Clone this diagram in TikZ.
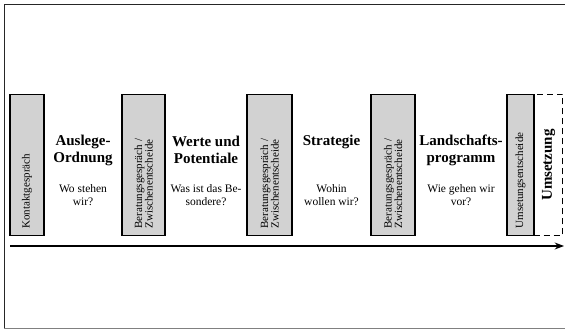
\documentclass[tikz,border=0pt]{standalone}
\usepackage{fontspec}
\setmainfont{Liberation Serif}
\usetikzlibrary{arrows.meta,positioning}

\tikzset{
  gate/.style={draw,line width=1.2pt,fill=gray!35,rotate=90,minimum width=141pt,
    inner xsep=7pt,inner ysep=0pt,text width=127pt,align=left,
    font=\fontsize{11}{10.5}\selectfont},
  phase/.style={align=center,font=\fontsize{15}{17}\selectfont\bfseries},
  question/.style={align=center,font=\fontsize{11.5}{12.5}\selectfont}
}

\begin{document}
\begin{tikzpicture}[x=1pt,y=-1pt,>=Stealth]
\useasboundingbox (0,0) rectangle (565,331);
% frame
\draw[black!85,line width=0.8pt] (565,4) -- (4,4) -- (4,329);
\draw[gray,line width=0.8pt] (4,328.5) -- (565,328.5);
% decision boxes
\foreach \n/\x/\w/\t in {g1/27/34/{Kontaktgespräch},
  g2/143.5/43/{Beratungsgespräch /\\Zwischenentscheide},
  g3/269.5/45/{Beratungsgespräch /\\Zwischenentscheide},
  g4/393/44/{Beratungsgespräch /\\Zwischenentscheide},
  g5/520.5/27/{Umsetungsentscheide}}
 { \node[gate,minimum height=\w pt] (\n) at (\x,165) {\t}; }
\node[draw,dashed,dash pattern=on 6pt off 4pt,line width=1.2pt,rotate=90,minimum width=141pt,
  minimum height=28pt,inner sep=0pt,font=\fontsize{15}{17}\selectfont\bfseries]
  (umsetzung) at (548.5,165) {Umsetzung};
% phases
\foreach \n/\x/\p/\q in {p1/83/{Auslege-\\Ordnung}/{Wo stehen\\wir?},
  p2/206/{Werte und\\Potentiale}/{Was ist das Be-\\sondere?},
  p3/331.5/{Strategie\\\phantom{g}}/{Wohin\\wollen wir?},
  p4/461/{Landschafts-\\programm}/{Wie gehen wir\\vor?}}
 { \node[phase] (\n) at (\x,150) {\p};
   \node[question] (\n q) at (\x,195) {\q}; }
% time axis
\coordinate (start) at (10,246);
\coordinate (end) at (564,246);
\draw[->,line width=1.4pt] (start) -- (end);
\end{tikzpicture}
\end{document}
